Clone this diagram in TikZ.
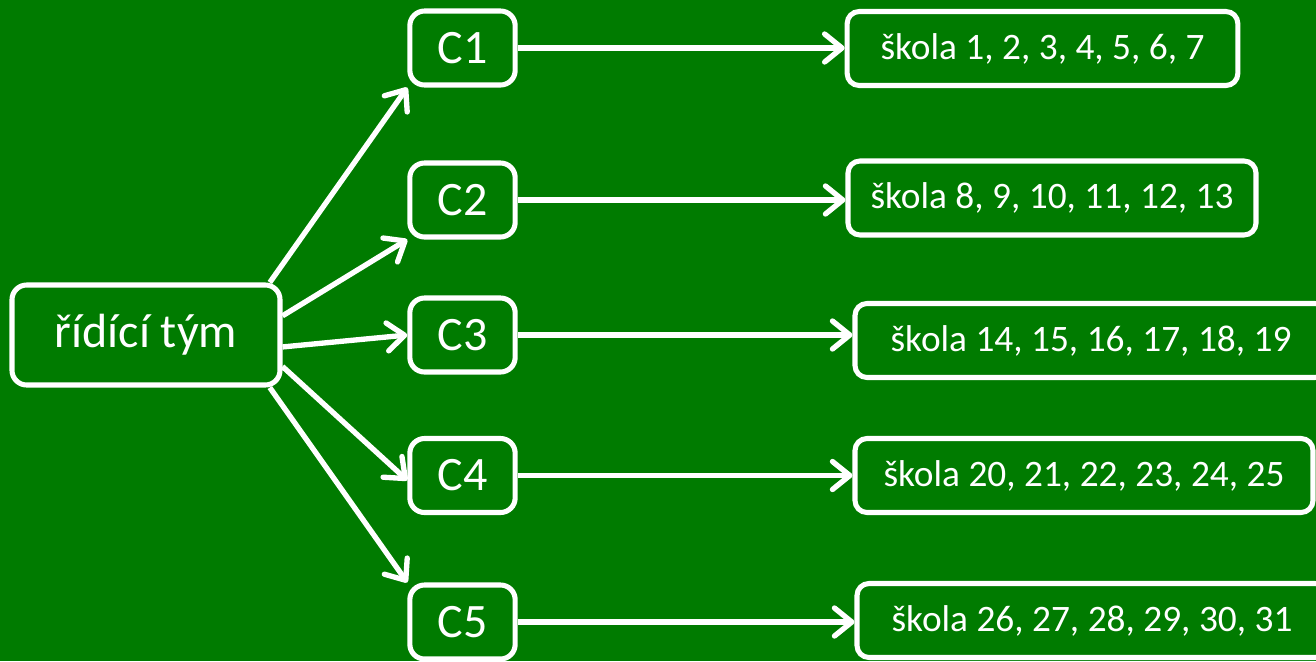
\documentclass[tikz,border=0pt]{standalone}
\usepackage{fontspec}
\setmainfont{Carlito}
\usetikzlibrary{arrows.meta}
\definecolor{leafgreen}{RGB}{0,123,0}

\begin{document}
\begin{tikzpicture}[x=0.75pt,y=-0.75pt,
  box/.style={draw=white,line width=3.8pt,rounded corners=11pt,text=white,inner sep=0pt,align=center},
  leader/.style={box,minimum width=201pt,minimum height=75pt,font=\fontsize{36}{40}\selectfont},
  centre/.style={box,minimum width=79pt,minimum height=55.5pt,font=\fontsize{36}{40}\selectfont},
  school/.style={box,minimum height=55.5pt,rounded corners=9pt,font=\fontsize{28}{32}\selectfont},
  link/.style={draw=white,line width=4pt,-{Straight Barb[length=13pt,width=21pt,round]}}]
\useasboundingbox (0,0) rectangle (1316,661);
\fill[leafgreen] (0,0) rectangle (1316,661);
\node[leader] (tym) at (146,335) {řídící tým};
\node[centre] (c1) at (462.5,48) {C1};
\node[centre] (c2) at (462.5,200) {C2};
\node[centre] (c3) at (462.5,335) {C3};
\node[centre] (c4) at (462.5,475.5) {C4};
\node[centre] (c5) at (462.5,622) {C5};
\node[school,minimum width=293pt] (s1) at (1042.5,48.5) {škola 1, 2, 3, 4, 5, 6, 7};
\node[school,minimum width=306pt] (s2) at (1052,198) {škola 8, 9, 10, 11, 12, 13};
\node[school,minimum width=354pt] (s3) at (1091,340.5) {škola 14, 15, 16, 17, 18, 19};
\node[school,minimum width=343.5pt] (s4) at (1084,475.5) {škola 20, 21, 22, 23, 24, 25};
\node[school,minimum width=352.5pt] (s5) at (1092,620.5) {škola 26, 27, 28, 29, 30, 31};
% from the team to the centres
\draw[link] (tym.23) -- (c1.south west);
\draw[link] (tym.8) -- (c2.south west);
\draw[link] (tym.-5) -- (c3.west);
\draw[link] (tym.-13) -- (c4.185);
\draw[link] (tym.-23) -- (c5.north west);
% from the centres to the schools
\draw[link] (c1.east) -- (c1.east -| s1.west);
\draw[link] (c2.east) -- (c2.east -| s2.west);
\draw[link] (c3.east) -- (c3.east -| s3.west);
\draw[link] (c4.east) -- (c4.east -| s4.west);
\draw[link] (c5.east) -- (c5.east -| s5.west);
\end{tikzpicture}
\end{document}
